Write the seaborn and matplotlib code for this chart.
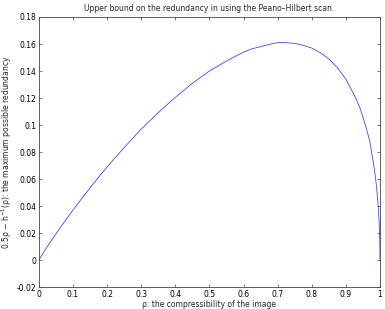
import matplotlib
matplotlib.use("Agg")
import matplotlib.pyplot as plt
import seaborn as sns
import pandas as pd

# values
rho = [0.0, 0.01, 0.02, 0.03, 0.05, 0.075, 0.1, 0.125, 0.15, 0.175, 0.2,
       0.25, 0.3, 0.35, 0.4, 0.45, 0.5, 0.55, 0.6, 0.625, 0.65, 0.675, 0.7,
       0.72, 0.75, 0.775, 0.8, 0.825, 0.85, 0.875, 0.9, 0.925, 0.94, 0.95,
       0.96, 0.97, 0.98, 0.985, 0.99, 0.995, 0.9975, 0.999, 0.9995, 1.0]
redundancy = [0.0, 0.0041, 0.0081, 0.012, 0.0194, 0.0284, 0.037, 0.0453,
              0.0535, 0.0613, 0.069, 0.0833, 0.097, 0.1092, 0.1205, 0.1309,
              0.14, 0.1474, 0.154, 0.1565, 0.158, 0.1597, 0.161, 0.161,
              0.1605, 0.159, 0.157, 0.1535, 0.149, 0.1425, 0.134, 0.122,
              0.1135, 0.106, 0.0975, 0.088, 0.073, 0.0645, 0.054, 0.0393,
              0.028, 0.018, 0.0129, 0.0]
xticks = [0, 0.1, 0.2, 0.3, 0.4, 0.5, 0.6, 0.7, 0.8, 0.9, 1]
yticks = [-0.02, 0, 0.02, 0.04, 0.06, 0.08, 0.1, 0.12, 0.14, 0.16, 0.18]

df = pd.DataFrame({"rho": rho, "r": redundancy})

sns.set_style("ticks")
plt.rcParams["font.family"] = ["DejaVu Sans"]

fig = plt.figure(figsize=(3.85, 3.09), dpi=100)
ax = fig.add_axes([0.101, 0.071, 0.886, 0.874])
sns.lineplot(data=df, x="rho", y="r", color="#2a3cff", linewidth=0.55, ax=ax)

ax.set_xlim(0, 1)
ax.set_ylim(-0.02, 0.18)
ax.set_xticks(xticks)
ax.set_xticklabels([f"{t:g}" for t in xticks])
ax.set_yticks(yticks)
ax.set_yticklabels([f"{t:g}" for t in yticks])
ax.tick_params(direction="in", length=2.5, width=0.5, labelsize=5.5, pad=2,
               top=True, right=True, colors="#444444", labelcolor="black")
for s in ax.spines.values():
    s.set_visible(True)
    s.set_linewidth(0.6)
    s.set_color("#444444")

ax.set_title("Upper bound on the redundancy in using the Peano\u2013Hilbert scan.",
             fontsize=5.5, pad=4)
ax.set_xlabel("\u03c1: the compressibility of the image", fontsize=5.5, labelpad=1)
ax.set_ylabel("0.5\u03c1 \u2212 h$^{-1}$(\u03c1): the maximum possible redundancy",
              fontsize=5.5, labelpad=2)

fig.savefig("out.png", dpi=100)
